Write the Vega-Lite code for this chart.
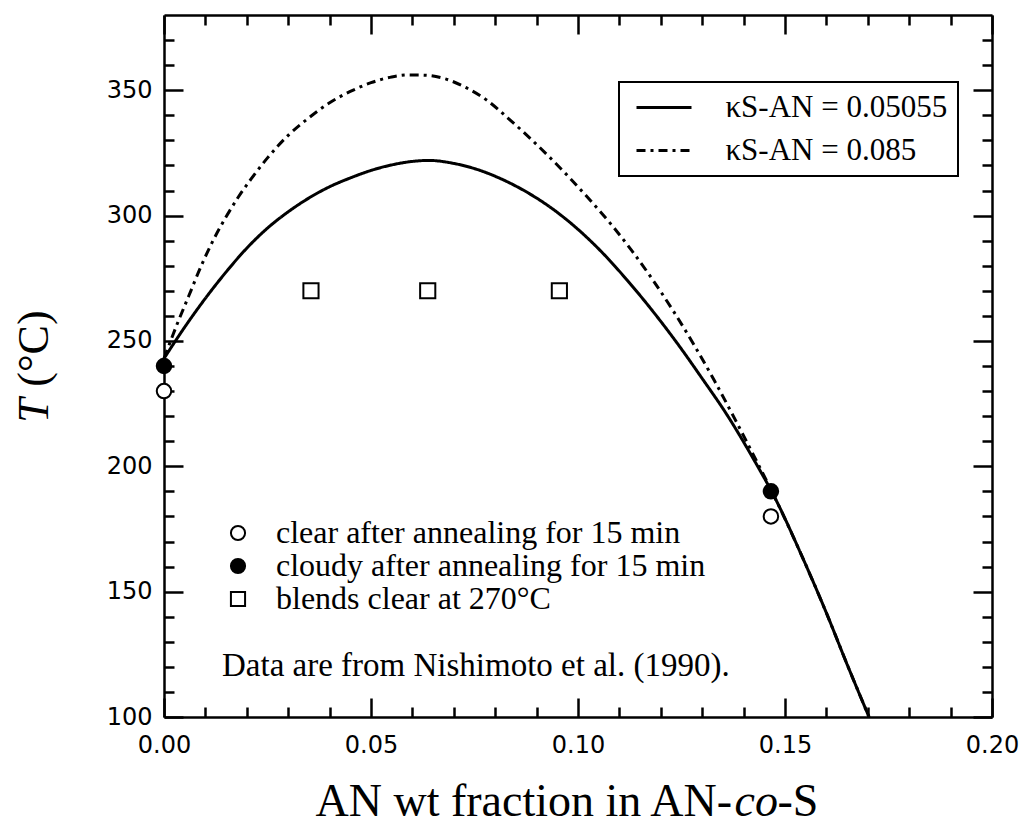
{
  "$schema": "https://vega.github.io/schema/vega-lite/v6.json",
  "width": 828,
  "height": 702,
  "autosize": {"type": "none"},
  "padding": {"left": 164, "top": 15, "right": 34, "bottom": 108},
  "background": "white",
  "config": {
    "view": {"stroke": null},
    "axis": {
      "domainColor": "black", "domainWidth": 2.5, "tickColor": "black", "tickWidth": 2.5,
      "labelColor": "black", "labelFont": "DejaVu Sans", "labelFontSize": 24, "grid": false,
      "titleColor": "black", "labelFlush": false, "labelOverlap": false, "zindex": 1
    },
    "legend": {"strokeWidth": 2}
  },
  "datasets": {
    "curves": [
      {"model": "κS-AN = 0.05055", "x": 0.000, "T": 243},
      {"model": "κS-AN = 0.05055", "x": 0.005, "T": 255.5},
      {"model": "κS-AN = 0.05055", "x": 0.010, "T": 267},
      {"model": "κS-AN = 0.05055", "x": 0.015, "T": 277.5},
      {"model": "κS-AN = 0.05055", "x": 0.020, "T": 287},
      {"model": "κS-AN = 0.05055", "x": 0.025, "T": 295},
      {"model": "κS-AN = 0.05055", "x": 0.030, "T": 301.5},
      {"model": "κS-AN = 0.05055", "x": 0.035, "T": 307},
      {"model": "κS-AN = 0.05055", "x": 0.040, "T": 311.5},
      {"model": "κS-AN = 0.05055", "x": 0.045, "T": 315},
      {"model": "κS-AN = 0.05055", "x": 0.050, "T": 318},
      {"model": "κS-AN = 0.05055", "x": 0.055, "T": 320.2},
      {"model": "κS-AN = 0.05055", "x": 0.060, "T": 321.6},
      {"model": "κS-AN = 0.05055", "x": 0.064, "T": 322},
      {"model": "κS-AN = 0.05055", "x": 0.070, "T": 320.8},
      {"model": "κS-AN = 0.05055", "x": 0.076, "T": 318.2},
      {"model": "κS-AN = 0.05055", "x": 0.082, "T": 314.2},
      {"model": "κS-AN = 0.05055", "x": 0.088, "T": 309},
      {"model": "κS-AN = 0.05055", "x": 0.094, "T": 302.5},
      {"model": "κS-AN = 0.05055", "x": 0.100, "T": 294.5},
      {"model": "κS-AN = 0.05055", "x": 0.106, "T": 285},
      {"model": "κS-AN = 0.05055", "x": 0.112, "T": 274},
      {"model": "κS-AN = 0.05055", "x": 0.118, "T": 262},
      {"model": "κS-AN = 0.05055", "x": 0.124, "T": 249},
      {"model": "κS-AN = 0.05055", "x": 0.130, "T": 235},
      {"model": "κS-AN = 0.05055", "x": 0.136, "T": 220.5},
      {"model": "κS-AN = 0.05055", "x": 0.142, "T": 204},
      {"model": "κS-AN = 0.05055", "x": 0.148, "T": 186},
      {"model": "κS-AN = 0.05055", "x": 0.154, "T": 164.5},
      {"model": "κS-AN = 0.05055", "x": 0.160, "T": 141.5},
      {"model": "κS-AN = 0.05055", "x": 0.165, "T": 121},
      {"model": "κS-AN = 0.05055", "x": 0.1703, "T": 100},
      {"model": "κS-AN = 0.085", "x": 0.000, "T": 243},
      {"model": "κS-AN = 0.085", "x": 0.003, "T": 256},
      {"model": "κS-AN = 0.085", "x": 0.006, "T": 268},
      {"model": "κS-AN = 0.085", "x": 0.009, "T": 280},
      {"model": "κS-AN = 0.085", "x": 0.012, "T": 290.5},
      {"model": "κS-AN = 0.085", "x": 0.015, "T": 299.5},
      {"model": "κS-AN = 0.085", "x": 0.018, "T": 307.5},
      {"model": "κS-AN = 0.085", "x": 0.021, "T": 314.5},
      {"model": "κS-AN = 0.085", "x": 0.025, "T": 323},
      {"model": "κS-AN = 0.085", "x": 0.030, "T": 332},
      {"model": "κS-AN = 0.085", "x": 0.035, "T": 339},
      {"model": "κS-AN = 0.085", "x": 0.040, "T": 345},
      {"model": "κS-AN = 0.085", "x": 0.045, "T": 349.5},
      {"model": "κS-AN = 0.085", "x": 0.050, "T": 353},
      {"model": "κS-AN = 0.085", "x": 0.055, "T": 355.3},
      {"model": "κS-AN = 0.085", "x": 0.059, "T": 356.1},
      {"model": "κS-AN = 0.085", "x": 0.063, "T": 356},
      {"model": "κS-AN = 0.085", "x": 0.068, "T": 354.5},
      {"model": "κS-AN = 0.085", "x": 0.073, "T": 351},
      {"model": "κS-AN = 0.085", "x": 0.078, "T": 346},
      {"model": "κS-AN = 0.085", "x": 0.083, "T": 339},
      {"model": "κS-AN = 0.085", "x": 0.088, "T": 331.5},
      {"model": "κS-AN = 0.085", "x": 0.093, "T": 323.5},
      {"model": "κS-AN = 0.085", "x": 0.098, "T": 315},
      {"model": "κS-AN = 0.085", "x": 0.103, "T": 306},
      {"model": "κS-AN = 0.085", "x": 0.108, "T": 296.5},
      {"model": "κS-AN = 0.085", "x": 0.113, "T": 286},
      {"model": "κS-AN = 0.085", "x": 0.118, "T": 274.5},
      {"model": "κS-AN = 0.085", "x": 0.123, "T": 262},
      {"model": "κS-AN = 0.085", "x": 0.128, "T": 248.5},
      {"model": "κS-AN = 0.085", "x": 0.133, "T": 234},
      {"model": "κS-AN = 0.085", "x": 0.138, "T": 218.5},
      {"model": "κS-AN = 0.085", "x": 0.143, "T": 202.5},
      {"model": "κS-AN = 0.085", "x": 0.148, "T": 186},
      {"model": "κS-AN = 0.085", "x": 0.154, "T": 164.5},
      {"model": "κS-AN = 0.085", "x": 0.160, "T": 141.5},
      {"model": "κS-AN = 0.085", "x": 0.165, "T": 121},
      {"model": "κS-AN = 0.085", "x": 0.1703, "T": 100}
    ],
    "points": [
      {"series": "clear after annealing for 15 min", "x": 0.000, "T": 230},
      {"series": "clear after annealing for 15 min", "x": 0.1466, "T": 180},
      {"series": "cloudy after annealing for 15 min", "x": 0.000, "T": 240},
      {"series": "cloudy after annealing for 15 min", "x": 0.1466, "T": 190},
      {"series": "blends clear at 270°C", "x": 0.0355, "T": 270},
      {"series": "blends clear at 270°C", "x": 0.0637, "T": 270},
      {"series": "blends clear at 270°C", "x": 0.0955, "T": 270}
    ]
  },
  "layer": [
    {
      "data": {"name": "curves"},
      "transform": [{"filter": "datum.model === 'κS-AN = 0.05055'"}],
      "mark": {"type": "line", "strokeWidth": 3, "color": "black", "interpolate": "monotone"},
      "encoding": {
        "x": {
          "field": "x", "type": "quantitative",
          "scale": {"domain": [0, 0.2], "nice": false, "zero": false},
          "axis": {
            "orient": "bottom", "values": [0, 0.05, 0.1, 0.15, 0.2], "format": ".2f",
            "tickSize": -19, "labelPadding": 35,
            "title": "AN wt fraction in AN-",
            "titleFont": "Liberation Serif", "titleFontSize": 46, "titleFontWeight": "normal",
            "titleX": 151, "titleY": 98, "titleBaseline": "alphabetic", "titleAlign": "left"
          }
        },
        "y": {
          "field": "T", "type": "quantitative",
          "scale": {"domain": [100, 380], "nice": false, "zero": false},
          "axis": {
            "orient": "left", "values": [100, 150, 200, 250, 300, 350],
            "tickSize": -19, "labelPadding": 31,
            "title": "T",
            "titleFont": "Liberation Serif", "titleFontStyle": "italic", "titleFontSize": 44, "titleFontWeight": "normal",
            "titleX": -117, "titleY": 395, "titleAngle": -90, "titleBaseline": "alphabetic", "titleAlign": "center"
          }
        },
        "strokeDash": {
          "field": "model", "type": "nominal",
          "scale": {"domain": ["κS-AN = 0.05055", "κS-AN = 0.085"], "range": [[1, 0], [9, 5, 3, 5]]},
          "legend": {
            "orient": "none", "legendX": 455, "legendY": 67, "title": null,
            "symbolType": "M-2.5,0H2.5", "symbolSize": 484, "symbolOffset": 19.5,
            "symbolStrokeWidth": 3, "symbolStrokeColor": "black", "symbolFillColor": "transparent",
            "labelFont": "Liberation Serif", "labelFontSize": 31, "labelColor": "black", "labelOffset": 46,
            "labelLimit": 400, "padding": 10, "strokeColor": "black", "rowPadding": 11
          }
        }
      }
    },
    {
      "data": {"name": "curves"},
      "transform": [{"filter": "datum.model === 'κS-AN = 0.085'"}],
      "mark": {"type": "line", "strokeWidth": 3, "color": "black", "interpolate": "monotone"},
      "encoding": {
        "x": {
          "field": "x", "type": "quantitative",
          "axis": {
            "orient": "top", "values": [0, 0.05, 0.1, 0.15, 0.2],
            "labels": false, "tickSize": -19,
            "title": "-S",
            "titleFont": "Liberation Serif", "titleFontSize": 46, "titleFontWeight": "normal",
            "titleX": 613, "titleY": 800, "titleBaseline": "alphabetic", "titleAlign": "left"
          }
        },
        "y": {
          "field": "T", "type": "quantitative",
          "axis": {
            "orient": "right", "values": [100, 150, 200, 250, 300, 350],
            "labels": false, "tickSize": -19,
            "title": "(°C)",
            "titleFont": "Liberation Serif", "titleFontSize": 44, "titleFontWeight": "normal",
            "titleX": -945, "titleY": 333, "titleAngle": -90, "titleBaseline": "alphabetic", "titleAlign": "center"
          }
        },
        "strokeDash": {
          "field": "model", "type": "nominal",
          "scale": {"domain": ["κS-AN = 0.05055", "κS-AN = 0.085"], "range": [[1, 0], [9, 5, 3, 5]]},
          "legend": {
            "orient": "none", "legendX": 455, "legendY": 67, "title": null,
            "symbolType": "M-2.5,0H2.5", "symbolSize": 484, "symbolOffset": 19.5,
            "symbolStrokeWidth": 3, "symbolStrokeColor": "black", "symbolFillColor": "transparent",
            "labelFont": "Liberation Serif", "labelFontSize": 31, "labelColor": "black", "labelOffset": 46,
            "labelLimit": 400, "padding": 10, "strokeColor": "black", "rowPadding": 11
          }
        }
      }
    },
    {
      "data": {"name": "points"},
      "transform": [{"filter": "datum.series !== 'blends clear at 270°C'"}],
      "mark": {"type": "point", "filled": true, "strokeWidth": 2, "size": 210, "opacity": 1},
      "encoding": {
        "x": {
          "field": "x", "type": "quantitative",
          "axis": {
            "orient": "bottom",
            "values": [0.01, 0.02, 0.03, 0.04, 0.06, 0.07, 0.08, 0.09, 0.11, 0.12, 0.13, 0.14, 0.16, 0.17, 0.18, 0.19],
            "labels": false, "domain": false, "tickSize": -10,
            "title": "co",
            "titleFont": "Liberation Serif", "titleFontStyle": "italic", "titleFontSize": 46, "titleFontWeight": "normal",
            "titleX": 570, "titleY": 98, "titleBaseline": "alphabetic", "titleAlign": "left"
          }
        },
        "y": {
          "field": "T", "type": "quantitative",
          "axis": {
            "orient": "left",
            "values": [110, 120, 130, 140, 160, 170, 180, 190, 210, 220, 230, 240, 260, 270, 280, 290, 310, 320, 330, 340, 360, 370],
            "labels": false, "domain": false, "tickSize": -10, "title": null
          }
        },
        "shape": {
          "field": "series", "type": "nominal",
          "scale": {"domain": ["clear after annealing for 15 min", "cloudy after annealing for 15 min", "blends clear at 270°C"], "range": ["circle", "circle", "square"]},
          "legend": {
            "orient": "none", "legendX": 58, "legendY": 502,
            "title": "Data are from Nishimoto et al. (1990).", "titleOrient": "bottom",
            "titleFont": "Liberation Serif", "titleFontSize": 33, "titleFontWeight": "normal", "titleColor": "black",
            "titlePadding": 35, "titleLimit": 800, "titleAnchor": "start",
            "labelFont": "Liberation Serif", "labelFontSize": 32, "labelColor": "black", "labelOffset": 22, "labelLimit": 600,
            "symbolSize": 200, "symbolStrokeWidth": 2,
            "rowPadding": 1, "padding": 0
          }
        },
        "fill": {
          "field": "series", "type": "nominal",
          "scale": {"domain": ["clear after annealing for 15 min", "cloudy after annealing for 15 min", "blends clear at 270°C"], "range": ["white", "black", "white"]}
        },
        "stroke": {
          "field": "series", "type": "nominal",
          "scale": {"domain": ["clear after annealing for 15 min", "cloudy after annealing for 15 min", "blends clear at 270°C"], "range": ["black", "black", "black"]}
        }
      }
    },
    {
      "data": {"name": "points"},
      "transform": [{"filter": "datum.series === 'blends clear at 270°C'"}],
      "mark": {"type": "point", "filled": true, "strokeWidth": 2, "size": 230, "opacity": 1},
      "encoding": {
        "x": {
          "field": "x", "type": "quantitative",
          "axis": {
            "orient": "top",
            "values": [0.01, 0.02, 0.03, 0.04, 0.06, 0.07, 0.08, 0.09, 0.11, 0.12, 0.13, 0.14, 0.16, 0.17, 0.18, 0.19],
            "labels": false, "domain": false, "tickSize": -10, "title": null
          }
        },
        "y": {
          "field": "T", "type": "quantitative",
          "axis": {
            "orient": "right",
            "values": [110, 120, 130, 140, 160, 170, 180, 190, 210, 220, 230, 240, 260, 270, 280, 290, 310, 320, 330, 340, 360, 370],
            "labels": false, "domain": false, "tickSize": -10, "title": null
          }
        },
        "shape": {
          "field": "series", "type": "nominal",
          "scale": {"domain": ["clear after annealing for 15 min", "cloudy after annealing for 15 min", "blends clear at 270°C"], "range": ["circle", "circle", "square"]},
          "legend": {
            "orient": "none", "legendX": 58, "legendY": 502,
            "title": "Data are from Nishimoto et al. (1990).", "titleOrient": "bottom",
            "titleFont": "Liberation Serif", "titleFontSize": 33, "titleFontWeight": "normal", "titleColor": "black",
            "titlePadding": 35, "titleLimit": 800, "titleAnchor": "start",
            "labelFont": "Liberation Serif", "labelFontSize": 32, "labelColor": "black", "labelOffset": 22, "labelLimit": 600,
            "symbolSize": 200, "symbolStrokeWidth": 2,
            "rowPadding": 1, "padding": 0
          }
        },
        "fill": {
          "field": "series", "type": "nominal",
          "scale": {"domain": ["clear after annealing for 15 min", "cloudy after annealing for 15 min", "blends clear at 270°C"], "range": ["white", "black", "white"]}
        },
        "stroke": {
          "field": "series", "type": "nominal",
          "scale": {"domain": ["clear after annealing for 15 min", "cloudy after annealing for 15 min", "blends clear at 270°C"], "range": ["black", "black", "black"]}
        }
      }
    }
  ]
}
